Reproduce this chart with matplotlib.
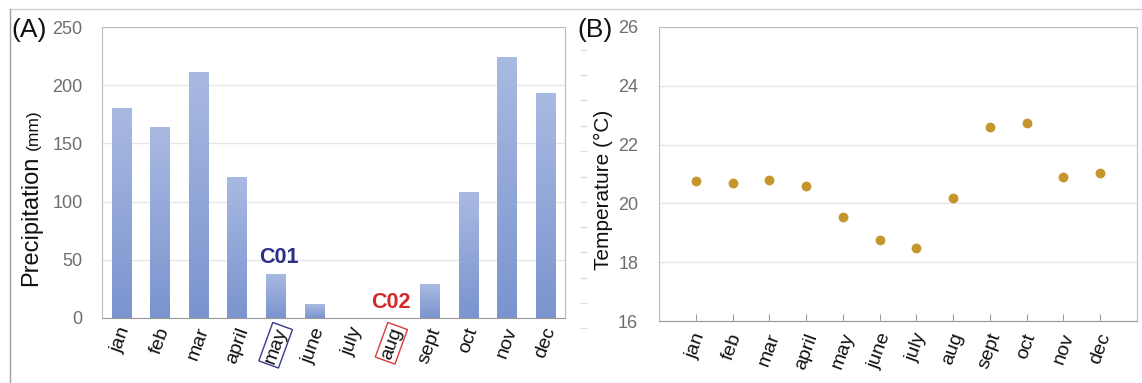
import matplotlib
matplotlib.use("Agg")
import matplotlib.pyplot as plt
import numpy as np
from matplotlib.lines import Line2D
from matplotlib.colors import LinearSegmentedColormap

months = ["jan", "feb", "mar", "april", "may", "june", "july", "aug", "sept", "oct", "nov", "dec"]
precip = [180, 164, 211, 121, 38, 12, 0, 0, 29, 108, 224, 193]
temp = [20.75, 20.7, 20.8, 20.6, 19.55, 18.75, 18.5, 20.2, 22.6, 22.75, 20.9, 21.05]
precip_ticks = [0, 50, 100, 150, 200, 250]
temp_ticks = [16, 18, 20, 22, 24, 26]

plt.rcParams['font.family'] = ['Liberation Sans', 'DejaVu Sans']

W, H = 1142, 383
fig = plt.figure(figsize=(W / 100, H / 100), dpi=100)

def frac(x0, y0, x1, y1):
    return [x0 / W, 1 - y1 / H, (x1 - x0) / W, (y1 - y0) / H]

# outer frame lines
fig.add_artist(Line2D([10 / W, 1], [1 - 9 / H, 1 - 9 / H], color="#cfcfcf", lw=1))
fig.add_artist(Line2D([10 / W, 10 / W], [0, 1 - 9 / H], color="#a0a0a0", lw=1))
for yy in [50, 75, 100, 126, 151, 177, 202, 227, 252, 278, 303, 328]:
    fig.add_artist(Line2D([581 / W, 586 / W], [1 - yy / H, 1 - yy / H], color="#dddddd", lw=1))

spine_col = "#bdbdbd"
grid_col = "#e6e6e6"
tick_col = "#6e6e6e"

# ---------- (A) precipitation ----------
ax1 = fig.add_axes(frac(102, 27, 565, 318))
x = np.arange(len(months))
bars = ax1.bar(x, precip, width=0.5, color="none", zorder=2)
cmap = LinearSegmentedColormap.from_list("g", ["#7b94cf", "#a9bae2"])
grad = np.linspace(0, 1, 256).reshape(-1, 1)
for b in bars:
    h = b.get_height()
    if h <= 0:
        continue
    x0 = b.get_x()
    im = ax1.imshow(grad, cmap=cmap, origin="lower", aspect="auto",
                    extent=[x0, x0 + b.get_width(), 0, h], zorder=2)
    im.set_clip_path(b)
ax1.set_xlim(-0.5, 11.5)
ax1.set_ylim(0, 250)
ax1.set_yticks(precip_ticks)
ax1.set_yticklabels([str(t) for t in precip_ticks], fontsize=13, color=tick_col)
ax1.yaxis.grid(True, color=grid_col, lw=1, zorder=0)
ax1.set_axisbelow(True)
ax1.tick_params(axis="y", length=0, pad=14)
ax1.tick_params(axis="x", length=0, pad=5)
ax1.set_xticks(x)
ax1.set_xticklabels(months, rotation=70, fontsize=14, ha="center", va="top", color="#111111")
for s in ["left", "top", "right"]:
    ax1.spines[s].set_color(spine_col)
ax1.spines["bottom"].set_color("#9a9a9a")
labs = ax1.get_xticklabels()
labs[4].set_bbox(dict(boxstyle="square,pad=0.1", fc="none", ec="#3a3a8c", lw=1))
labs[7].set_bbox(dict(boxstyle="square,pad=0.1", fc="none", ec="#d83a3a", lw=1))
ax1.text(4.08, 38 + 5, "C01", color="#2b2f86", fontsize=15.5, fontweight="bold", ha="center", va="bottom")
ax1.text(6.98, 4, "C02", color="#d62828", fontsize=15.5, fontweight="bold", ha="center", va="bottom")

fig.text(31 / W, 1 - 221 / H, "Precipitation", rotation=90, fontsize=17, ha="center", va="center", color="#111111")
fig.text(33 / W, 1 - 130 / H, "(mm)", rotation=90, fontsize=12.5, ha="center", va="center", color="#111111")
fig.text(11 / W, 1 - 30 / H, "(A)", fontsize=19, ha="left", va="center", color="#111111")

# ---------- (B) temperature ----------
ax2 = fig.add_axes(frac(659, 27, 1137, 321))
xt = np.arange(1, len(months) + 1)
ax2.scatter(xt, temp, s=50, color="#c4962c", zorder=3, linewidths=0)
ax2.set_xlim(0, 13)
ax2.set_ylim(16, 26)
ax2.set_yticks(temp_ticks)
ax2.set_yticklabels([str(t) for t in temp_ticks], fontsize=13, color=tick_col)
ax2.yaxis.grid(True, color=grid_col, lw=1, zorder=0)
ax2.set_axisbelow(True)
ax2.tick_params(axis="y", length=0, pad=15)
ax2.set_xticks(xt)
ax2.set_xticklabels(months, rotation=70, fontsize=14, ha="center", va="top", color="#111111")
ax2.tick_params(axis="x", direction="in", length=5, color="#9a9a9a", pad=7)
for s in ["left", "top", "right"]:
    ax2.spines[s].set_color(spine_col)
ax2.spines["bottom"].set_color("#9a9a9a")

fig.text(603 / W, 1 - 190 / H, "Temperature (°C)", rotation=90, fontsize=15, ha="center", va="center", color="#111111")
fig.text(577 / W, 1 - 30 / H, "(B)", fontsize=19, ha="left", va="center", color="#111111")

fig.savefig("out.png", dpi=100)
